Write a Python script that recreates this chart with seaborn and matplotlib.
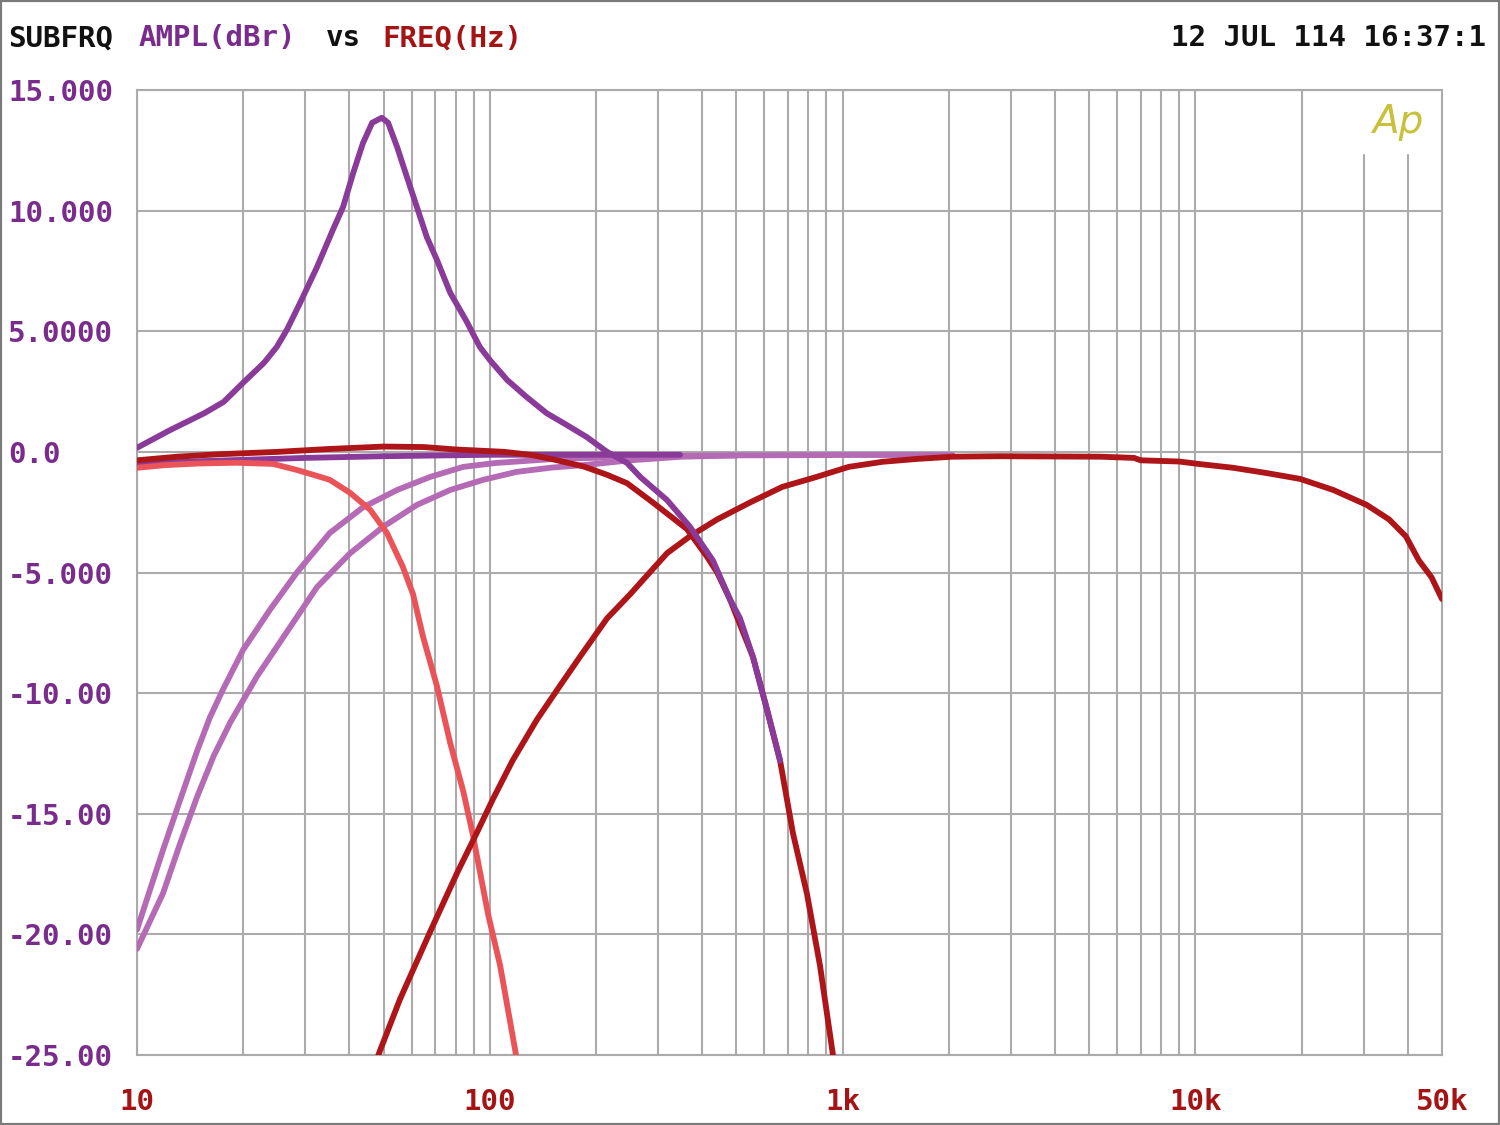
import matplotlib
matplotlib.use("Agg")
import matplotlib.pyplot as plt
import matplotlib.patches as patches
import seaborn as sns
import pandas as pd

# ---------------- data ----------------
peak_f = [10, 12.4, 15.5, 17.6, 20.1, 22.9, 24.9, 26.6, 29.0, 32.4, 35.9, 38.4, 41.0, 43.7,
          46.4, 49.4, 51.5, 54.6, 58.2, 62.1, 66.3, 70.8, 77.2, 86.0, 93.7, 100, 112, 127,
          145, 165, 188, 215, 245, 267, 318, 369, 429, 479, 512, 557, 611, 665]
peak_db = [0.17, 0.9, 1.6, 2.07, 2.9, 3.69, 4.35, 5.06, 6.18, 7.67, 9.2, 10.16, 11.56, 12.8,
           13.64, 13.85, 13.64, 12.64, 11.4, 10.16, 8.9, 7.96, 6.6, 5.4, 4.35, 3.81, 2.98,
           2.28, 1.6, 1.12, 0.62, 0.0, -0.46, -1.04, -2.0, -3.1, -4.5, -6.1, -6.9, -8.5,
           -10.7, -12.8]

lp_red_f = [10, 13, 17, 25, 35, 50, 65, 80, 100, 110, 130, 150, 184, 215, 245, 290, 362,
            413, 441, 479, 557, 611, 665, 723, 792, 863, 939, 960]
lp_red_db = [-0.35, -0.2, -0.1, 0, 0.12, 0.22, 0.2, 0.1, 0.03, 0, -0.12, -0.3, -0.6, -0.95,
             -1.3, -2.1, -3.2, -4.35, -5.0, -6.1, -8.5, -10.7, -12.8, -15.8, -18.3, -21.3,
             -25.0, -26.0]

hp_red_f = [47.5, 48.9, 55.6, 67.7, 80.8, 91.8, 102, 116, 136, 158, 180, 215, 250, 318, 369,
            441, 546, 675, 843, 1042, 1300, 1630, 2050, 2790, 5370, 6700, 7000, 9000, 10200,
            12800, 15800, 19800, 24600, 30600, 35400, 39500, 43000, 46700, 50000]
hp_red_db = [-25.3, -24.8, -22.7, -19.9, -17.45, -15.8, -14.4, -12.8, -11.1, -9.7, -8.5, -6.9,
             -5.9, -4.2, -3.5, -2.8, -2.1, -1.45, -1.04, -0.62, -0.41, -0.29, -0.2, -0.18,
             -0.2, -0.25, -0.35, -0.4, -0.5, -0.66, -0.87, -1.12, -1.58, -2.2, -2.8, -3.5,
             -4.5, -5.2, -6.1]

lp_salmon_f = [10, 12, 15, 19.2, 24.3, 28.4, 31.6, 35.2, 40.2, 45.8, 51.1, 56.7, 60.6, 64.7,
               70.8, 77.2, 84.2, 89.6, 99, 107, 119, 121]
lp_salmon_db = [-0.66, -0.55, -0.48, -0.45, -0.5, -0.75, -0.95, -1.16, -1.7, -2.4, -3.36,
                -4.77, -5.9, -7.67, -9.7, -12.06, -14.1, -15.9, -19.2, -21.3, -25.1, -26.0]

hp_mauve_a_f = [10, 11.85, 13.2, 14.8, 16.1, 17.5, 20, 23.8, 28.4, 35.2, 43.7, 54.6, 67.7,
                84.2, 104, 150, 250, 400, 1000, 2050]
hp_mauve_a_db = [-19.8, -16.5, -14.5, -12.4, -11.0, -9.87, -8.2, -6.55, -5.0, -3.36, -2.3,
                 -1.58, -1.04, -0.62, -0.46, -0.3, -0.2, -0.15, -0.13, -0.13]

hp_mauve_b_f = [10, 11.85, 13.2, 14.8, 16.5, 18.4, 21.9, 27.2, 32.4, 40.2, 49.9, 62.1, 77.2,
                95.7, 119, 150, 184, 250, 350, 500]
hp_mauve_b_db = [-20.6, -18.3, -16.3, -14.3, -12.6, -11.2, -9.3, -7.25, -5.6, -4.2, -3.1,
                 -2.2, -1.58, -1.16, -0.83, -0.65, -0.55, -0.35, -0.2, -0.15]

flat_purple_f = [10, 13, 20, 30, 50, 100, 200, 346]
flat_purple_db = [-0.48, -0.42, -0.33, -0.25, -0.18, -0.12, -0.12, -0.12]

y_ticks = [15, 10, 5, 0, -5, -10, -15, -20, -25]
y_tick_labels = ["15.000", "10.000", "5.0000", "0.0", "-5.000", "-10.00", "-15.00", "-20.00", "-25.00"]
x_ticks = [10, 100, 1000, 10000, 50000]
x_tick_labels = ["10", "100", "1k", "10k", "50k"]
x_grid = ([10 * i for i in range(1, 10)] + [100 * i for i in range(1, 10)] +
          [1000 * i for i in range(1, 10)] + [10000, 20000])
x_grid_short = [30000, 40000]

# ---------------- style ----------------
PURPLE = "#8A3A98"
DARKRED = "#AE1518"
SALMON = "#EA5458"
MAUVE = "#B56AB6"
GRID = "#ABABAB"
LABEL_PURPLE = "#7A2C8C"
LABEL_RED = "#A51414"

sns.set_style("white")
plt.rcParams["font.family"] = ["DejaVu Sans Mono", "DejaVu Sans"]

fig = plt.figure(figsize=(15, 11.25), dpi=100)
ax = fig.add_axes([137 / 1500, 1 - 1055 / 1125, (1442 - 137) / 1500, (1055 - 90) / 1125])

ax.set_xscale("log")
ax.set_xlim(10, 50000)
ax.set_ylim(-25, 15)

# grid
for g in x_grid:
    ax.axvline(g, color=GRID, lw=1.5, zorder=0)
for g in x_grid_short:
    ax.axvline(g, color=GRID, lw=1.5, ymax=(1055 - 155) / 965, zorder=0)
for t in y_ticks:
    ax.axhline(t, color=GRID, lw=1.5, zorder=0)

curves = [
    ("mauve_a", hp_mauve_a_f, hp_mauve_a_db, MAUVE),
    ("mauve_b", hp_mauve_b_f, hp_mauve_b_db, MAUVE),
    ("flat", flat_purple_f, flat_purple_db, PURPLE),
    ("salmon", lp_salmon_f, lp_salmon_db, SALMON),
    ("hp_red", hp_red_f, hp_red_db, DARKRED),
    ("lp_red", lp_red_f, lp_red_db, DARKRED),
    ("peak", peak_f, peak_db, PURPLE),
]
for i, (name, f, db, col) in enumerate(curves):
    df = pd.DataFrame({"freq": f, "db": db})
    sns.lineplot(data=df, x="freq", y="db", ax=ax, color=col, lw=4.2,
                 estimator=None, sort=True, zorder=3 + i)

for s in ax.spines.values():
    s.set_color(GRID)
    s.set_linewidth(1.5)

ax.set_xlabel("")
ax.set_ylabel("")
ax.set_yticks(y_ticks)
ax.set_yticklabels(y_tick_labels)
ax.set_xticks(x_ticks)
ax.set_xticklabels(x_tick_labels)
ax.minorticks_off()
ax.tick_params(axis="y", length=0, pad=(137 - 8) * 0.72, labelsize=21, labelcolor=LABEL_PURPLE)
ax.tick_params(axis="x", length=0, pad=24, labelsize=21, labelcolor=LABEL_RED)
for lab in ax.get_yticklabels() + ax.get_xticklabels():
    lab.set_fontweight("bold")
for lab in ax.get_yticklabels():
    lab.set_horizontalalignment("left")

# header
cw = 18.7
def header(txt, col, nchar):
    fig.text((8 + nchar * cw) / 1500, 1 - 38 / 1125, txt, color=col, fontsize=21,
             fontweight="bold", va="center", ha="left")
header("SUBFRQ", "#111111", 0)
header("AMPL(dBr)", LABEL_PURPLE, 7)
header("vs", "#111111", 17)
header("FREQ(Hz)", LABEL_RED, 20)
fig.text(1486 / 1500, 1 - 38 / 1125, "12 JUL 114 16:37:1", color="#111111", fontsize=21,
         fontweight="bold", va="center", ha="right")

# Ap logo
fig.text(1398 / 1500, 1 - 122 / 1125, "Ap", color="#C9C13A", fontsize=28, style="italic",
         family="DejaVu Sans", fontweight="light", va="center", ha="center")

fig.patches.append(patches.Rectangle((0, 0), 1, 1, transform=fig.transFigure, fill=False,
                                     edgecolor="#7a7a7a", lw=3))

fig.savefig("out.png", dpi=100, facecolor="white")
